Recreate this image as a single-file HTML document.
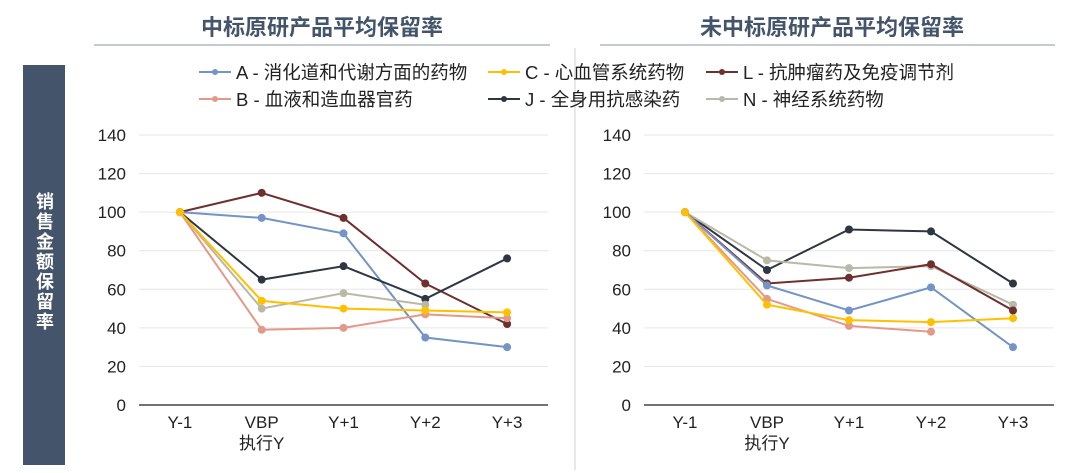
<!DOCTYPE html>
<html><head><meta charset="utf-8"><style>
body{margin:0;background:#fff;}
svg{display:block;font-family:"Liberation Sans","Noto Sans CJK SC",sans-serif;}
</style></head><body>
<svg id="c" width="1080" height="473">
<text x="322" y="35" text-anchor="middle" font-size="22" font-weight="bold" fill="#44546a">中标原研产品平均保留率</text>
<line x1="94" y1="45" x2="550" y2="45" stroke="#8a94a6" stroke-width="1"/>
<text x="832" y="35" text-anchor="middle" font-size="22" font-weight="bold" fill="#44546a">未中标原研产品平均保留率</text>
<line x1="600" y1="45" x2="1055" y2="45" stroke="#8a94a6" stroke-width="1"/>
<line x1="575" y1="48" x2="575" y2="470" stroke="#d0d0d0" stroke-width="1"/>
<rect x="23" y="65" width="42" height="400" fill="#44546a"/>
<text x="44" y="262" fill="#fff" font-size="18" font-weight="bold" text-anchor="middle" style="writing-mode:vertical-rl;letter-spacing:2px">销售金额保留率</text>
<g id="legend"></g>
<g id="left"></g>
<g id="right"></g>
</svg>
<script>
const categories=["Y-1","VBP","Y+1","Y+2","Y+3"];
const yTicks=[0,20,40,60,80,100,120,140];
const seriesNames=["A - 消化道和代谢方面的药物","B - 血液和造血器官药","C - 心血管系统药物","J - 全身用抗感染药","L - 抗肿瘤药及免疫调节剂","N - 神经系统药物"];
const seriesColors=["#7394c4","#e3998a","#ffc000","#2d3642","#6f2f2f","#bab8a6"];
const leftA=[100,97,89,35,30];
const leftB=[100,39,40,47,45];
const leftC=[100,54,50,49,48];
const leftJ=[100,65,72,55,76];
const leftL=[100,110,97,63,42];
const leftN=[100,50,58,52,null];
const rightA=[100,62,49,61,30];
const rightB=[100,55,41,38,null];
const rightC=[100,52,44,43,45];
const rightJ=[100,70,91,90,63];
const rightL=[100,63,66,73,49];
const rightN=[100,75,71,72,52];
const NS="http://www.w3.org/2000/svg";
function mk(tag,attrs,parent){const e=document.createElementNS(NS,tag);for(const k in attrs)e.setAttribute(k,attrs[k]);parent.appendChild(e);return e;}
const lg=document.getElementById('legend');
const legX=[199,199,488,488,706,706],legY=[72,99,72,99,72,99];
seriesNames.forEach((n,i)=>{
 const g=mk('g',{},lg);
 
 
 mk('line',{x1:legX[i],y1:legY[i],x2:legX[i]+32,y2:legY[i],stroke:seriesColors[i],'stroke-width':2},g);
 mk('circle',{cx:legX[i]+16,cy:legY[i],r:3,fill:seriesColors[i]},g);
 const t=mk('text',{x:legX[i]+37,y:legY[i]+7,'font-size':18.5,fill:'#222'},g);t.textContent=n;
});
function drawChart(id,x0,x1,data,order){
 const g=document.getElementById(id);
 const yB=405,yT=135;
 const ys=v=>yB-(v/140)*(yB-yT);
 const step=(x1-x0)/categories.length;
 const xs=i=>x0+step*(i+0.5);
 yTicks.forEach(v=>{
  if(v>0)mk('line',{x1:x0,y1:ys(v),x2:x1,y2:ys(v),stroke:'#e6e6e6','stroke-width':1},g);
  const t=mk('text',{x:x0-13,y:ys(v)+6,'text-anchor':'end','font-size':17,fill:'#222'},g);t.textContent=v;
  
  
 });
 mk('line',{x1:x0,y1:yB,x2:x1,y2:yB,stroke:'#444','stroke-width':1.5},g);
 categories.forEach((c,i)=>{
  const t=mk('text',{x:xs(i),y:yB+23,'text-anchor':'middle','font-size':17,fill:'#222'},g);t.textContent=c;
  
  
  if(i===1){const t2=mk('text',{x:xs(i),y:yB+44,'text-anchor':'middle','font-size':17,fill:'#222'},g);t2.textContent='执行Y';}
 });
 order.forEach(si=>{
  const d=data[si],col=seriesColors[si];
  let pts=[];d.forEach((v,i)=>{if(v!==null)pts.push(xs(i)+','+ys(v));});
  const p=mk('polyline',{points:pts.join(' '),fill:'none',stroke:col,'stroke-width':2},g);
  
  
  d.forEach((v,i)=>{if(v===null)return;
   const c=mk('circle',{cx:xs(i),cy:ys(v),r:4,fill:col},g);
   
   
  });
 });
}
drawChart('left',139,548,[leftA,leftB,leftC,leftJ,leftL,leftN],[4,0,3,5,1,2]);
drawChart('right',644,1054,[rightA,rightB,rightC,rightJ,rightL,rightN],[3,5,4,0,1,2]);
</script>
</body></html>
